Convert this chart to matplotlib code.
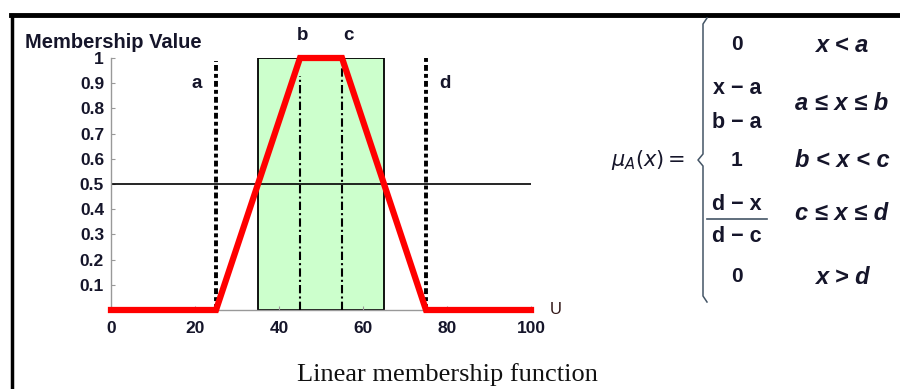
import numpy as np
import matplotlib.pyplot as plt
from matplotlib.patches import Rectangle
from matplotlib.lines import Line2D

# trapezoid corner points
u_pts = [0, 25, 45, 55, 75, 100]
mu_pts = [0, 0, 1, 1, 0, 0]
# marker lines a, b, c, d
mark_names = ['a', 'b', 'c', 'd']
mark_x = [25, 45, 55, 75]
mark_top = [0.99, 0.93, 0.98, 1.0]
# green band
band = [35, 65]
xticks = [0, 20, 40, 60, 80, 100]
yticks = [0.1, 0.2, 0.3, 0.4, 0.5, 0.6, 0.7, 0.8, 0.9, 1]
ytick_labels = ['0.1', '0.2', '0.3', '0.4', '0.5', '0.6', '0.7', '0.8', '0.9', '1']

txt = '#15152a'
plt.rcParams['font.family'] = ['Liberation Sans', 'DejaVu Sans']

fig = plt.figure(figsize=(9, 3.89), dpi=100)
W, H = 900, 389
def fx(px): return px / W
def fy(py): return 1 - py / H

ax = fig.add_axes([fx(111), fy(310), fx(531) - fx(111), fy(58) - fy(310)])
ax.set_xlim(0, 100)
ax.set_ylim(0, 1)

ax.add_patch(Rectangle((band[0], 0), band[1] - band[0], 1, facecolor='#ccffcc',
                       edgecolor='black', lw=1.3, zorder=1))
ax.axhline(0.5, color='black', lw=1.2, zorder=2)
for name, xv, top in zip(mark_names, mark_x, mark_top):
    thick = name in ('a', 'd')
    ax.plot([xv, xv], [0, top], color='black',
            lw=2.8 if thick else 1.5,
            ls=(0, (1.5, 0.8, 1, 0.8)) if thick else (0, (4, 1.5, 1, 1.5)), zorder=3)
ax.plot(u_pts, mu_pts, color='red', lw=4.5, solid_joinstyle='miter', zorder=4,
        clip_on=False)

ax.text(20.5, 0.9, 'a', ha='center', va='center', fontsize=13.5, weight='bold', color=txt)
ax.text(45.5, 1.09, 'b', ha='center', va='center', fontsize=13.5, weight='bold', color=txt)
ax.text(56.5, 1.09, 'c', ha='center', va='center', fontsize=13.5, weight='bold', color=txt)
ax.text(79.5, 0.9, 'd', ha='center', va='center', fontsize=13.5, weight='bold', color=txt)
ax.text(106, 0.0, 'U', ha='center', va='center', fontsize=12, color='#301515',
        clip_on=False)

for s in ['top', 'right']:
    ax.spines[s].set_visible(False)
for s in ['left', 'bottom']:
    ax.spines[s].set_color('#999999')
    ax.spines[s].set_linewidth(1)
ax.set_xticks(xticks)
ax.set_xticklabels([str(v) for v in xticks])
ax.set_yticks(yticks)
ax.set_yticklabels(ytick_labels)
ax.tick_params(direction='in', length=3, color='#999999', labelsize=12.5,
               labelcolor=txt)
ax.tick_params(axis='x', pad=8)
ax.tick_params(axis='y', pad=5)
for lab in ax.get_xticklabels() + ax.get_yticklabels():
    lab.set_fontweight('bold')

fig.text(fx(25), fy(42), 'Membership Value', ha='left', va='center', fontsize=14.5,
         weight='bold', color=txt)
fig.text(fx(447), fy(375), 'Linear membership function', ha='center', va='center',
         fontsize=19, family=['Liberation Serif', 'DejaVu Serif'], color='#111111')

# outer frame
fig.add_artist(Line2D([fx(11), 1], [fy(15), fy(15)], color='black', lw=3.5))
fig.add_artist(Line2D([fx(12), fx(12)], [fy(15), 0], color='black', lw=2.5))

# formula
fig.text(fx(648), fy(160), r'$\mu_A(x)=$', ha='center', va='center',
         fontsize=15, color=txt)
# brace
bx, by0, by1, bm = 703, 18, 302, 160
brace = np.array([[bx + 4, by0], [bx, by0 + 6], [bx, bm - 6], [bx - 5, bm],
                  [bx, bm + 6], [bx, by1 - 6], [bx + 4, by1]])
fig.add_artist(Line2D(fx(brace[:, 0]), fy(brace[:, 1]), color='#445566', lw=1.1))

val_x = 737
cond_x = 842
rows_v = [('0', 45), ('1', 160), ('0', 277)]
for s, py in rows_v:
    fig.text(fx(val_x), fy(py), s, ha='center', va='center', fontsize=15,
             weight='bold', color=txt)
fracs = [('x − a', 'b − a', 88, 122, False), ('d − x', 'd − c', 204, 237, True)]
for num, den, pn, pd, bar in fracs:
    fig.text(fx(val_x), fy(pn), num, ha='center', va='center', fontsize=15.5,
             weight='bold', color=txt)
    fig.text(fx(val_x), fy(pd), den, ha='center', va='center', fontsize=15.5,
             weight='bold', color=txt)
    if bar:
        fig.add_artist(Line2D([fx(707), fx(767)], [fy(219), fy(219)],
                              color='#445566', lw=1.2))
conds = [('x < a', 45), ('a ≤ x ≤ b', 103), ('b < x < c', 160),
         ('c ≤ x ≤ d', 213), ('x > d', 277)]
for s, py in conds:
    fig.text(fx(cond_x), fy(py), s, ha='center', va='center', fontsize=17,
             weight='bold', style='italic', color=txt)

fig.savefig('out.png', dpi=100)
